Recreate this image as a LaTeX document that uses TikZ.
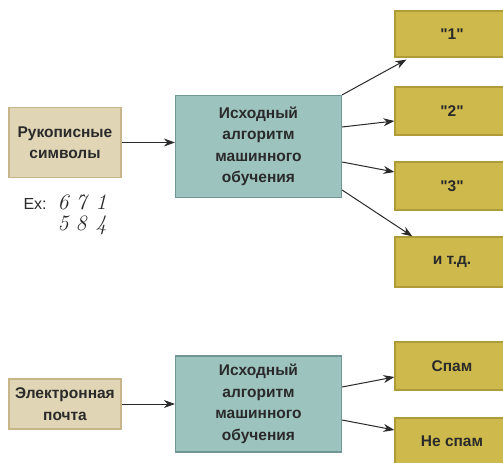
\documentclass[tikz,border=0pt]{standalone}
\usepackage{fontspec}
\setmainfont{Liberation Sans}
\newfontfamily\handfont{Latin Modern Roman}
\usetikzlibrary{arrows.meta,calc}
\definecolor{tanfill}{HTML}{E0D5B5}
\definecolor{tanline}{HTML}{C8B68A}
\definecolor{tealfill}{HTML}{9DC3BF}
\definecolor{tealline}{HTML}{6F9793}
\definecolor{goldfill}{HTML}{CDB94C}
\definecolor{goldline}{HTML}{B09C36}
\definecolor{ink}{HTML}{2A2A2A}
\newcommand{\qq}[1]{\textquotedbl#1\textquotedbl}
\tikzset{
  box/.style={draw, line width=1.2bp, align=center, inner sep=0pt,
    font=\fontsize{15.5bp}{21.5bp}\selectfont\bfseries, text=ink},
  inbox/.style={box, fill=tanfill, draw=tanline, minimum width=112bp},
  algbox/.style={box, fill=tealfill, draw=tealline, minimum width=166bp},
  outbox/.style={box, fill=goldfill, draw=goldline, minimum width=114bp},
  arr/.style={draw=ink, line width=1bp, -{Stealth[length=11bp,width=8bp]}},
  hand/.style={font=\handfont\itshape\fontsize{22bp}{24bp}\selectfont, text=ink}
}
\begin{document}
\begin{tikzpicture}[x=1bp,y=-1bp]
\useasboundingbox[fill=white] (0,0) rectangle (503,463);

% upper chain: handwritten symbols
\node[inbox, minimum height=70bp] (in1) at (65,142.5) {Рукописные\\символы};
\node[algbox, minimum height=102bp] (alg1) at (258.5,146.5) {Исходный\\алгоритм\\машинного\\обучения};
\node[outbox, minimum height=46bp] (o1) at (452,34) {\qq{1}};
\node[outbox, minimum height=48bp] (o2) at (452,111) {\qq{2}};
\node[outbox, minimum height=48bp] (o3) at (452,186) {\qq{3}};
\node[outbox, minimum height=50bp] (o4) at (452,262) {и т.д.};

\node[anchor=base west, font=\fontsize{16bp}{18bp}\selectfont, text=ink] (ex) at (20,210) {Ex:};
\node[hand, anchor=base] (d1) at (63,210) {6};
\node[hand, anchor=base] (d2) at (81,210) {7};
\node[hand, anchor=base] (d3) at (101,210) {1};
\node[hand, anchor=base] (d4) at (63,231) {5};
\node[hand, anchor=base] (d5) at (81,231) {8};
\node[hand, anchor=base] (d6) at (101,231) {4};

\draw[arr] (in1.east) -- (in1.east -| alg1.west);
\draw[arr] (alg1.north east) -- ($(o1.south west)+(12,2)$);
\draw[arr] ($(alg1.east)+(0,-19.5)$) -- ($(o2.west)+(0,10)$);
\draw[arr] ($(alg1.east)+(0,15.5)$) -- ($(o3.west)+(0,-14)$);
\draw[arr] ($(alg1.east)+(0,43.5)$) -- ($(o4.north west)+(18,0)$);

% lower chain: e-mail
\node[inbox, minimum height=50bp] (in2) at (65,404) {Электронная\\почта};
\node[algbox, minimum height=96bp] (alg2) at (258.5,404) {Исходный\\алгоритм\\машинного\\обучения};
\node[outbox, minimum height=48bp] (s1) at (452,366) {Спам};
\node[outbox, minimum height=48bp, text depth=2bp] (s2) at (452,442) {Не спам};

\draw[arr] (in2.east) -- (alg2.west);
\draw[arr] ($(alg2.east)+(0,-17)$) -- ($(s1.west)+(0,11)$);
\draw[arr] ($(alg2.east)+(0,16)$) -- ($(s2.west)+(0,-12)$);
\end{tikzpicture}
\end{document}
